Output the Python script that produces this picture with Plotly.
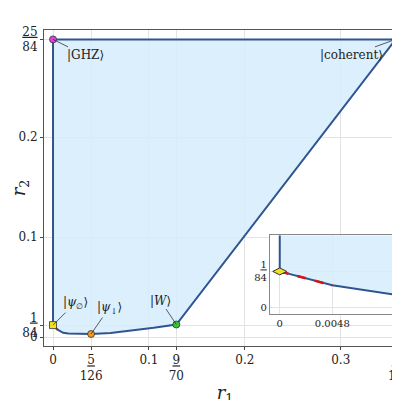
import plotly.graph_objects as go

# boundary of the region
curve_x = [0, 0.0048, 0.0106, 0.016, 0.024, 0.0397, 0.06, 0.08, 0.105, 9/70]
curve_y = [1/84, 0.0073, 0.0042, 0.0034, 0.0031, 0.0030, 0.0040, 0.0060, 0.0092, 0.0125]
top_y = 25/84
right_x = 5/14

pts_x = [0, right_x, 0, 5/126, 9/70]
pts_y = [top_y, top_y, 1/84, 0.0030, 0.0125]
pts_col = ["#e040e0", "#40e8e8", "#f0e020", "#f39c1a", "#2ecc2e"]

fill_col = "rgba(214,236,252,0.85)"
line_col = "#2f5590"
font = "DejaVu Serif"

bx = [0, 0, right_x] + curve_x[::-1]
by = [1/84, top_y, top_y] + curve_y[::-1]

fig = go.Figure()
fig.add_trace(go.Scatter(x=bx, y=by, fill="toself", fillcolor=fill_col, mode="lines",
                         line=dict(color=line_col, width=2)))
fig.add_trace(go.Scatter(x=curve_x[:2], y=curve_y[:2], mode="lines",
                         line=dict(color="#dd1111", width=2)))
fig.add_trace(go.Scatter(x=pts_x, y=pts_y, mode="markers",
                         marker=dict(color=pts_col, size=7, symbol=["circle", "circle", "square", "circle", "circle"],
                                     line=dict(color="#333", width=0.8))))

# inset
fig.add_trace(go.Scatter(x=bx, y=by, fill="toself", fillcolor=fill_col, mode="lines",
                         line=dict(color=line_col, width=2), xaxis="x2", yaxis="y2"))
fig.add_trace(go.Scatter(x=curve_x[:2], y=curve_y[:2], mode="lines",
                         line=dict(color="#dd1111", width=2.5, dash="dash"), xaxis="x2", yaxis="y2"))
fig.add_trace(go.Scatter(x=[0], y=[1/84], mode="markers", xaxis="x2", yaxis="y2",
                         marker=dict(color="#f0e020", size=10, symbol="diamond-wide",
                                     line=dict(color="#333", width=1))))

fr = lambda a, b: f"<u>{a}</u><br>{b}"
grid = "#e3e3e3"
fig.update_layout(
    width=400, height=400, showlegend=False, plot_bgcolor="white", paper_bgcolor="white",
    margin=dict(l=36, r=2, t=22, b=62),
    font=dict(family=font, size=12, color="#222"),
    xaxis=dict(range=[-0.0094, 0.368], tickvals=[0, 5/126, 0.1, 9/70, 0.2, 0.3, right_x],
               ticktext=["0", fr(5, 126), "0.1", fr(9, 70), "0.2", "0.3", fr(5, 14)], automargin=False,
               showgrid=True, gridcolor=grid, zeroline=False, showline=True, linecolor="#555", mirror=True,
               ticks="outside", ticklen=3, title=dict(text="<i>r</i><sub>1</sub>", font=dict(size=18), standoff=4)),
    yaxis=dict(range=[-0.009, 0.307], tickvals=[0, 1/84, 0.1, 0.2, top_y], automargin=False,
               ticktext=["0", fr(1, 84), "0.1", "0.2", fr(25, 84)],
               showgrid=True, gridcolor=grid, zeroline=False, showline=True, linecolor="#555", mirror=True,
               ticks="outside", ticklen=3, title=dict(text="<i>r</i><sub>2</sub>", font=dict(size=18), standoff=2)),
    xaxis2=dict(domain=[0.624, 0.972], anchor="y2", range=[-0.0009, 0.0106], tickvals=[0, 0.0048],
                showgrid=True, gridcolor=grid, zeroline=False, showline=True, linecolor="#888", mirror=True,
                tickfont=dict(size=10), automargin=False),
    yaxis2=dict(domain=[0.10, 0.35], anchor="x2", range=[-0.0023, 0.0238], tickvals=[0, 1/84],
                ticktext=["0", fr(1, 84)], showgrid=True, gridcolor=grid, zeroline=False, automargin=False,
                showline=True, linecolor="#888", mirror=True, tickfont=dict(size=10)),
    shapes=[dict(type="rect", xref="paper", yref="paper", x0=0.58, x1=0.985, y0=0.02, y1=0.36,
                 fillcolor="white", line=dict(width=0), layer="below")],
)
ann = [("|GHZ⟩", 0, top_y, 32, 16), ("|coherent⟩", right_x, top_y, -44, 16),
       ("|<i>ψ</i><sub>∅</sub>⟩", 0, 1/84, 22, -22), ("|<i>ψ</i><sub>↓</sub>⟩", 5/126, 0.003, 18, -26),
       ("|<i>W</i>⟩", 9/70, 0.0125, -16, -24)]
for t, x, y, ax, ay in ann:
    fig.add_annotation(x=x, y=y, text=t, ax=ax, ay=ay, showarrow=True, arrowhead=0, arrowwidth=0.8,
                       arrowcolor="#333", font=dict(size=12))
fig.write_html("out.html")
